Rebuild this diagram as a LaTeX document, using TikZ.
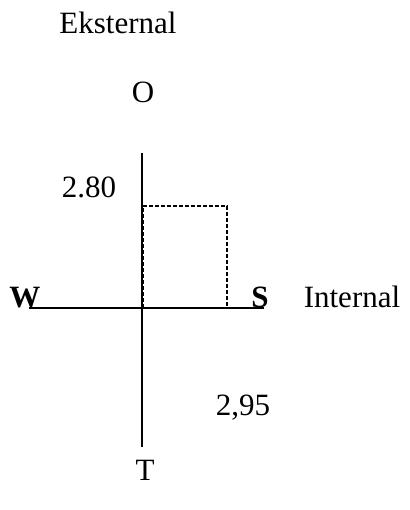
\documentclass[tikz,border=0pt]{standalone}
\usepackage{fontspec}
\setmainfont{Liberation Serif}
\usetikzlibrary{positioning}

\begin{document}
\begin{tikzpicture}[x=0.5pt,y=-0.5pt,
 lbl/.style={anchor=base,inner sep=0pt,font=\fontsize{15.5}{18}\selectfont},
 dir/.style={lbl,font=\fontsize{15.5}{18}\selectfont\bfseries},
 axis/.style={line width=0.9pt,black},
 plot/.style={dashed,line width=0.6pt,dash pattern=on 2pt off 1pt}]
\useasboundingbox (0,0) rectangle (409,510);
% labels
\node[lbl] (ext) at (118,33) {Eksternal};
\node[lbl] (o) at (143,102) {O};
\node[lbl] (t) at (145,480) {T};
\node[dir] (w) at (25,307) {W};
\node[dir] (s) at (260,307) {S};
\node[lbl] (int) at (352,307) {Internal};
\node[lbl] (h) at (89,197) {2.80};
\node[lbl] (b) at (243,415) {2,95};
% axes
\coordinate (top) at (142,153);
\coordinate (bot) at (142,447);
\coordinate (left) at (29,308);
\coordinate (right) at (264,308);
\draw[axis] (top) -- (bot);
\draw[axis] (left) -- (right);
% area
\coordinate (c0) at (143,308);
\coordinate (c1) at (227,206);
\draw[plot] (c0) rectangle (c1);
\end{tikzpicture}
\end{document}
